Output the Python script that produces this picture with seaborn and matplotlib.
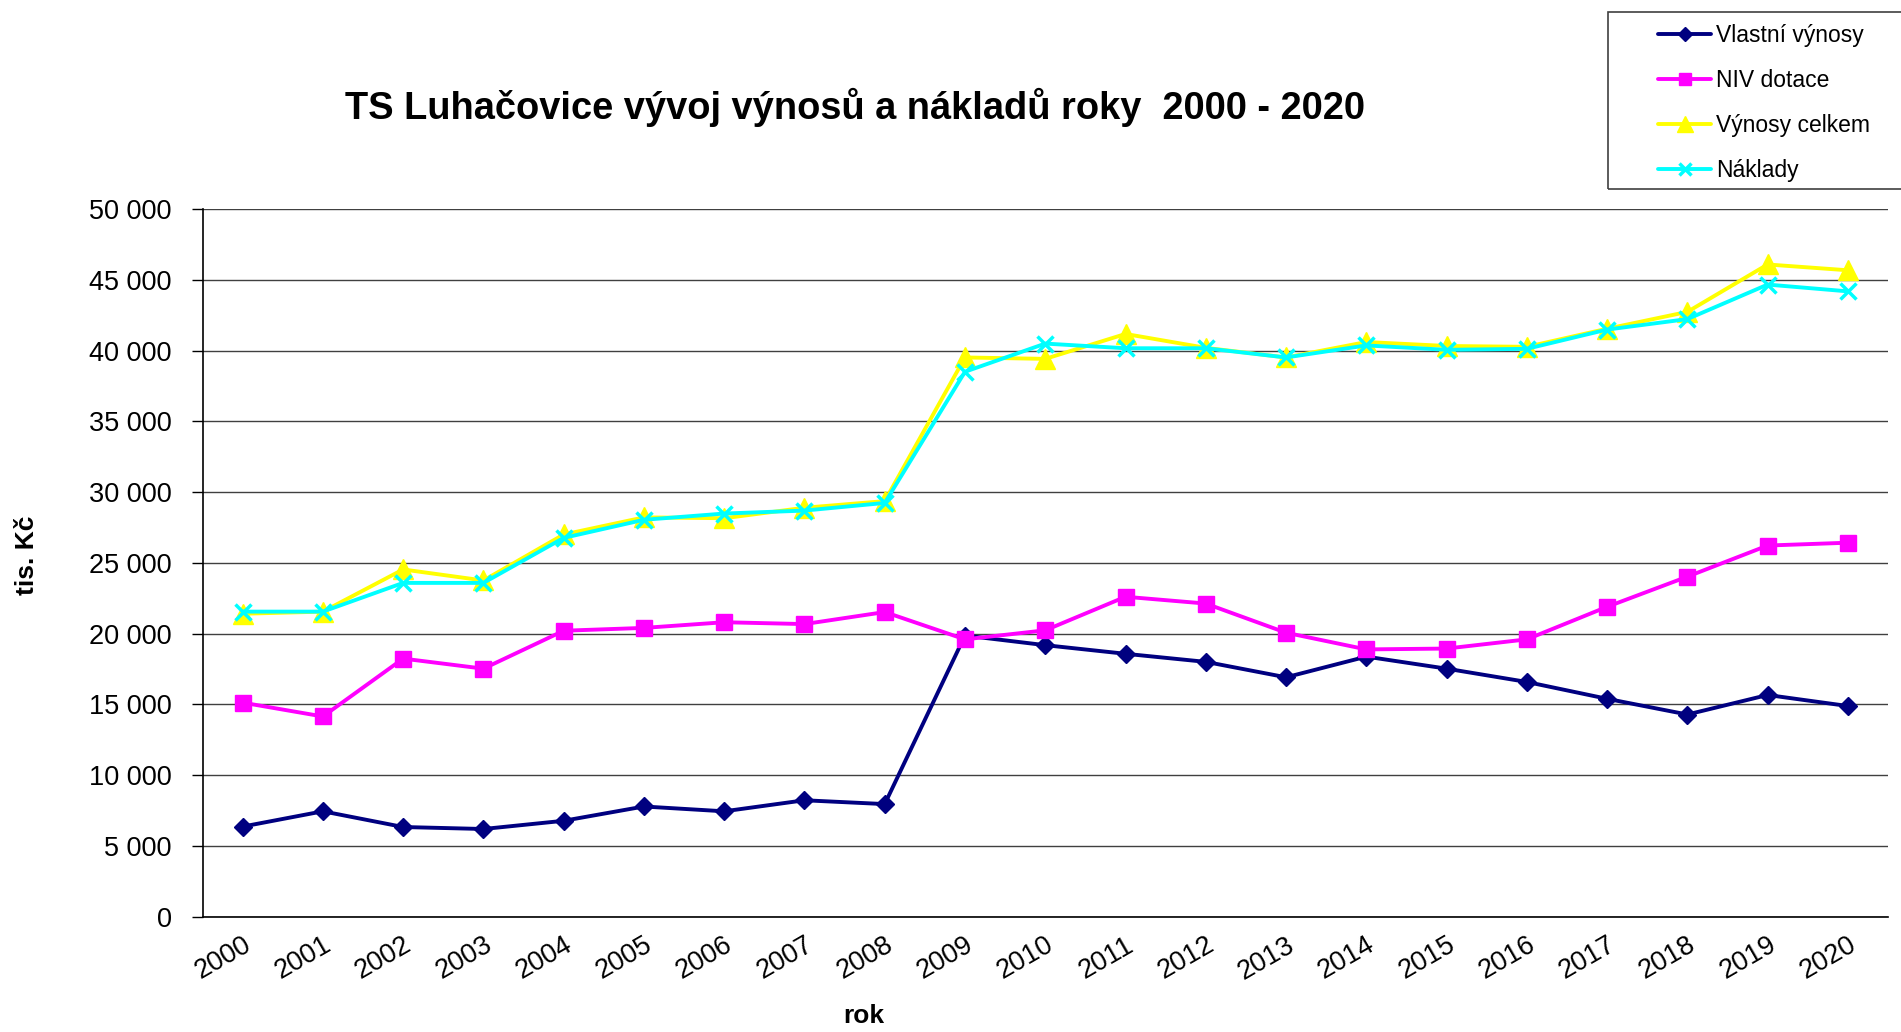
import numpy as np
import pandas as pd
import matplotlib
matplotlib.use("Agg")
import matplotlib.pyplot as plt
import seaborn as sns
from matplotlib.ticker import FuncFormatter, FixedLocator
from matplotlib.patches import Rectangle

# Data (tis. Kč)
years = list(range(2000, 2021))
vlastni_vynosy = [6360, 7440, 6330, 6190, 6770, 7780, 7440, 8220, 7950,
                  19860, 19180, 18570, 18000, 16910, 18370, 17520, 16580,
                  15390, 14280, 15660, 14880]
niv_dotace = [15120, 14140, 18230, 17520, 20200, 20400, 20800, 20670, 21520,
              19590, 20230, 22600, 22120, 20060, 18880, 18940, 19590,
              21890, 24020, 26220, 26420]
vynosy_celkem = [21400, 21550, 24530, 23750, 27000, 28210, 28150, 28890, 29360,
                 39510, 39410, 41170, 40190, 39510, 40600, 40320, 40260,
                 41540, 42730, 46080, 45670]
naklady = [21550, 21550, 23580, 23580, 26760, 28040, 28480, 28690, 29230,
           38500, 40490, 40160, 40160, 39510, 40360, 40050, 40120,
           41480, 42220, 44660, 44180]

series_names = ["Vlastní výnosy", "NIV dotace", "Výnosy celkem", "Náklady"]
series_values = [vlastni_vynosy, niv_dotace, vynosy_celkem, naklady]

sns.set_theme(style="white")
plt.rcParams['font.family'] = ['Liberation Sans', 'DejaVu Sans']
plt.rcParams['text.color'] = 'black'
plt.rcParams['axes.labelcolor'] = 'black'
plt.rcParams['xtick.color'] = 'black'
plt.rcParams['ytick.color'] = 'black'

W, H = 1901, 1032
fig = plt.figure(figsize=(W / 100, H / 100), dpi=100)
ax = fig.add_axes([202.5 / W, 1 - 916.6 / H, (1888 - 202.5) / W, (916.6 - 209) / H])

df = pd.DataFrame({"rok": years})
for name, vals in zip(series_names, series_values):
    df[name] = vals

styles = {
    "Vlastní výnosy": dict(color="#000080", marker="D", markersize=9),
    "NIV dotace": dict(color="#FF00FF", marker="s", markersize=11),
    "Výnosy celkem": dict(color="#FFFF00", marker="^", markersize=14),
    "Náklady": dict(color="#00FFFF", marker="x", markersize=11, markeredgewidth=2.5),
}

for name in series_names:
    st = styles[name]
    sns.lineplot(data=df, x="rok", y=name, ax=ax, color=st["color"], marker=st["marker"],
                 markersize=st["markersize"], markeredgecolor=st["color"],
                 markeredgewidth=st.get("markeredgewidth", 1), linewidth=2.8,
                 label=name, legend=False, zorder=3)

# axes styling
ax.set_xlim(years[0] - 0.5, years[-1] + 0.5)
ax.set_ylim(0, 50000)
ax.set_yticks(np.arange(0, 50001, 5000))
ax.yaxis.set_major_formatter(FuncFormatter(lambda v, p: f"{int(v):,}".replace(",", " ")))
ax.grid(axis="y", color="#404040", linewidth=1)
ax.grid(axis="x", visible=False)
for s in ["top", "right"]:
    ax.spines[s].set_visible(False)
for s in ["left", "bottom"]:
    ax.spines[s].set_color("black")
    ax.spines[s].set_linewidth(1.2)

ax.xaxis.set_major_locator(FixedLocator(years))
ax.xaxis.set_minor_locator(FixedLocator([y - 0.5 for y in years] + [years[-1] + 0.5]))
ax.set_xticklabels([str(y) for y in years], rotation=30, ha="right", va="top",
                   rotation_mode="anchor", fontsize=19.5)
ax.tick_params(axis="x", which="major", length=0, pad=11)
ax.tick_params(axis="x", which="minor", length=8, width=1.2, color="black", direction="out")
ax.tick_params(axis="y", which="major", length=8, width=1, color="black",
               direction="out", labelsize=19.5, pad=14, left=True)

ax.set_xlabel("rok", fontsize=19, fontweight="bold")
ax.set_ylabel("tis. Kč", fontsize=19, fontweight="bold")
ax.xaxis.set_label_coords((864 - 202.5) / 1685.5, (916.6 - 1016) / 707.6)
ax.xaxis.label.set_va("center")
ax.yaxis.set_label_coords((27 - 202.5) / 1685.5, (916.6 - 555) / 707.6)
ax.yaxis.label.set_va("center")

fig.text(855 / W, 1 - 107 / H, "TS Luhačovice vývoj výnosů a nákladů roky  2000 - 2020",
         ha="center", va="center", fontsize=27.4, fontweight="bold")

# legend box clipped at the right edge
fig.patches.append(Rectangle((1608 / W, 1 - 189 / H), 320 / W, 177 / H,
                             transform=fig.transFigure, fill=False,
                             edgecolor="#404040", linewidth=1.2))
handles, labels = ax.get_legend_handles_labels()
leg = fig.legend(handles, labels, loc="upper left", bbox_to_anchor=(1640 / W, 1 - 6 / H),
                 frameon=False, fontsize=16.5, handlelength=2.3, handletextpad=0.2,
                 labelspacing=0.95, borderpad=0.3, markerscale=0.8)

fig.savefig("out.png", dpi=100)
